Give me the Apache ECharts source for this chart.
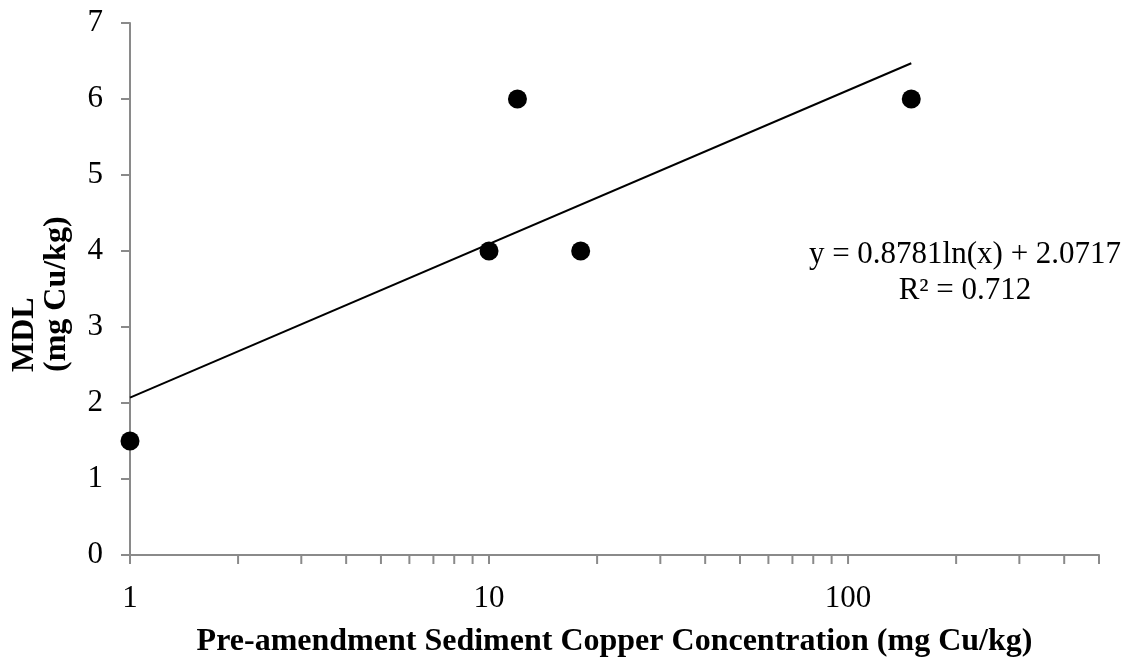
<!DOCTYPE html>
<html>
<head>
<meta charset="utf-8">
<script src="https://cdn.jsdelivr.net/npm/echarts@6/dist/echarts.min.js"></script>
<style>
html,body{margin:0;padding:0;background:#fff;}
#chart{width:1132px;height:663px;}
</style>
</head>
<body>
<div id="chart"></div>
<script>
// Data
const copperConc = [1, 10, 12, 18, 150];
const mdlValues = [1.5, 4, 6, 4, 6];
// Logarithmic trendline endpoints (y = 0.8781ln(x) + 2.0717 read at x = 1 and x = 150)
const trendX = [1, 150];
const trendY = [2.07, 6.47];
// Axis ticks
const xTickValues = [1, 2, 3, 4, 5, 6, 7, 8, 9, 10, 20, 30, 40, 50, 60, 70, 80, 90, 100, 200, 300, 400, 500];
const xTickLabels = ['1', '10', '100'];
const yTickLabels = ['0', '1', '2', '3', '4', '5', '6', '7'];
const equationText = 'y = 0.8781ln(x) + 2.0717\nR² = 0.712';
const xTitle = 'Pre-amendment Sediment Copper Concentration (mg Cu/kg)';
const yTitleLines = ['MDL', '(mg Cu/kg)'];

const FONT = '"Liberation Serif", "Times New Roman", serif';
const AXIS_COLOR = '#8a8a8a';

const chart = echarts.init(document.getElementById('chart'), null, {renderer: 'canvas'});

const option = {
  backgroundColor: '#ffffff',
  animation: false,
  grid: {left: 130, right: 33, top: 23, bottom: 108, containLabel: false},
  xAxis: {
    type: 'log',
    logBase: 10,
    min: 1,
    max: 500,
    axisLine: {show: true, lineStyle: {color: AXIS_COLOR, width: 2}},
    axisTick: {show: false},
    splitLine: {show: false},
    minorTick: {show: false},
    axisLabel: {
      show: true,
      fontFamily: FONT,
      fontSize: 31,
      color: '#000',
      margin: 28,
      showMaxLabel: false,
      formatter: function (v) {
        const s = String(Math.round(v));
        const lg = Math.log10(v);
        return (Math.abs(lg - Math.round(lg)) < 1e-6 && xTickLabels.indexOf(s) >= 0) ? s : '';
      }
    },
    name: xTitle,
    nameLocation: 'middle',
    nameGap: 71,
    nameTextStyle: {fontFamily: FONT, fontSize: 32, fontWeight: 'bold', color: '#000'}
  },
  yAxis: {
    type: 'value',
    min: 0,
    max: 7,
    interval: 1,
    axisLine: {show: true, lineStyle: {color: AXIS_COLOR, width: 2}},
    axisTick: {show: true, inside: false, length: 9, lineStyle: {color: AXIS_COLOR, width: 2}},
    splitLine: {show: false},
    axisLabel: {
      fontFamily: FONT,
      fontSize: 31,
      color: '#000',
      margin: 27,
      formatter: function (v) { return yTickLabels[Math.round(v)]; }
    }
  },
  series: [
    {
      type: 'custom',
      name: 'xticks',
      silent: true,
      clip: false,
      data: xTickValues.map(v => [v, 0]),
      encode: {x: 0, y: 1},
      renderItem: function (params, api) {
        const p = api.coord([api.value(0), 0]);
        return {
          type: 'line',
          shape: {x1: p[0], y1: p[1], x2: p[0], y2: p[1] + 9},
          style: {stroke: AXIS_COLOR, lineWidth: 2}
        };
      },
      z: 1
    },
    {
      type: 'line',
      name: 'trend',
      data: trendX.map((x, i) => [x, trendY[i]]),
      showSymbol: false,
      symbol: 'none',
      lineStyle: {color: '#000', width: 2},
      clip: false,
      z: 2
    },
    {
      type: 'scatter',
      name: 'MDL',
      data: copperConc.map((x, i) => [x, mdlValues[i]]),
      symbol: 'circle',
      symbolSize: 19,
      itemStyle: {color: '#000', opacity: 1},
      clip: false,
      z: 3
    }
  ],
  graphic: [
    {
      type: 'text',
      x: 965,
      y: 237,
      style: {
        text: equationText,
        fontFamily: FONT,
        fontSize: 31,
        fill: '#000',
        align: 'center',
        verticalAlign: 'top',
        lineHeight: 36
      }
    },
    {
      type: 'text',
      x: 25,
      y: 372,
      rotation: Math.PI / 2,
      style: {
        text: yTitleLines[0],
        fontFamily: FONT,
        fontSize: 32,
        fontWeight: 'bold',
        fill: '#000',
        align: 'left',
        verticalAlign: 'middle'
      }
    },
    {
      type: 'text',
      x: 57,
      y: 372,
      rotation: Math.PI / 2,
      style: {
        text: yTitleLines[1],
        fontFamily: FONT,
        fontSize: 32,
        fontWeight: 'bold',
        fill: '#000',
        align: 'left',
        verticalAlign: 'middle'
      }
    }
  ]
};

chart.setOption(option);
</script>
</body>
</html>
